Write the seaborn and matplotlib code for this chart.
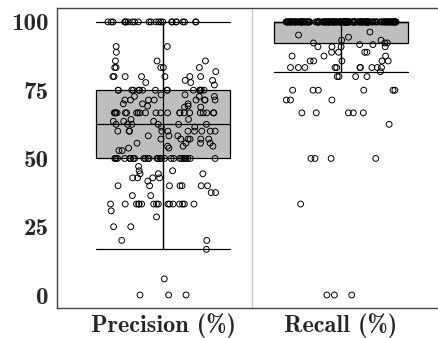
import matplotlib
matplotlib.use("Agg")
import matplotlib.pyplot as plt
import numpy as np
import pandas as pd
import seaborn as sns

metrics = ["Precision (%)", "Recall (%)"]

# score levels seen in the picture and how many points sit on each
precision_levels = [0, 5.9, 16.7, 20, 25, 28.6, 30.8, 33.3, 36.4, 37.5, 40, 41.7, 42.9, 44.4,
                    45.5, 47.1, 50, 52.9, 53.8, 54.5, 55.6, 57.1, 58.3, 60, 61.5, 62.5,
                    63.6, 64.3, 66.7, 68.8, 69.2, 70, 71.4, 72.7, 73.3, 75, 76.9, 77.8,
                    78.6, 80, 81.8, 83.3, 85.7, 88.9, 91, 100]
precision_counts = [3, 1, 1, 2, 2, 1, 1, 16, 2, 2, 7, 1, 4, 3,
                    2, 1, 30, 2, 2, 3, 4, 6, 3, 10, 2, 6,
                    3, 2, 22, 2, 2, 3, 8, 3, 2, 16, 1, 2,
                    2, 7, 1, 5, 3, 1, 2, 24]

recall_levels = [0, 33.3, 50, 62.5, 66.7, 71.4, 75, 80, 81.8, 83.3, 85.7, 87.5, 88.9,
                 90.9, 91.7, 92.3, 93.3, 94.4, 95.2, 96.3, 100]
recall_counts = [3, 1, 4, 1, 5, 3, 6, 4, 1, 10, 5, 3, 4,
                 4, 2, 3, 2, 1, 1, 1, 164]

precision = np.repeat(precision_levels, precision_counts)
recall = np.repeat(recall_levels, recall_counts)
df = pd.DataFrame({
    "metric": [metrics[0]] * len(precision) + [metrics[1]] * len(recall),
    "value": np.concatenate([precision, recall]),
})

sns.set_style("white")
plt.rcParams["font.family"] = ["cmb10", "DejaVu Serif"]
plt.rcParams["axes.unicode_minus"] = False

fig = plt.figure(figsize=(4.38, 3.38), dpi=100)
ax = fig.add_axes([57 / 438, 30 / 338, 381 / 438, 300 / 338])

ax.axvline(0.5, color="#c8c8c8", lw=1, zorder=0)

sns.boxplot(data=df, x="metric", y="value", order=metrics, width=0.75,
            color="#bebebe", linecolor="black", linewidth=0.9, saturation=1,
            showfliers=False, whis=1.5, capwidths=0.75, ax=ax)

# whisker line drawn straight through the box
for i, vals in enumerate([precision, recall]):
    q1, q3 = np.percentile(vals, [25, 75])
    iqr = q3 - q1
    lo = vals[vals >= q1 - 1.5 * iqr].min()
    hi = vals[vals <= q3 + 1.5 * iqr].max()
    ax.vlines(i, lo, hi, color="black", lw=0.9, zorder=3)

n_before = len(ax.collections)
np.random.seed(3)
sns.stripplot(data=df, x="metric", y="value", order=metrics, jitter=0.31,
              size=4.2, color="white", edgecolor="black", linewidth=0.7,
              ax=ax, zorder=2)
for c in ax.collections[n_before:]:
    c.set_facecolor("none")

ax.set_xlim(-0.596, 1.545)
ax.set_ylim(-4.76, 105.1)
ax.set_yticks([0, 25, 50, 75, 100])
ax.set_xlabel("")
ax.set_ylabel("")
ax.tick_params(labelsize=18, length=3, width=0.8, color="#555555", pad=3)
ax.tick_params(axis="x", labelsize=17.5, pad=0.5)
for side in ["left", "bottom", "top"]:
    ax.spines[side].set_color("#444444")
    ax.spines[side].set_linewidth(1)
ax.spines["right"].set_visible(False)

fig.savefig("out.png", dpi=100)
